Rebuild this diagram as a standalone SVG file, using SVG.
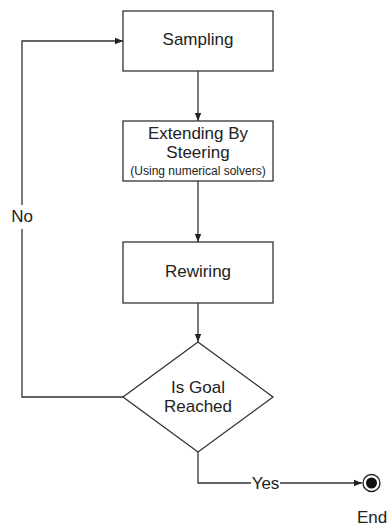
<svg xmlns="http://www.w3.org/2000/svg" width="388" height="527" viewBox="0 0 388 527">
  <style>
    .box { fill: #ffffff; stroke: #333333; stroke-width: 1.3; }
    .edge { fill: none; stroke: #333333; stroke-width: 1.3; }
    .t { font-family: "Liberation Sans", Arial, sans-serif; font-size: 17px; fill: #222222; text-anchor: middle; }
    .small { font-size: 12px; }
  </style>
  <defs>
    <marker id="arrow" viewBox="0 0 10 10" refX="10" refY="5" markerWidth="8" markerHeight="8" markerUnits="userSpaceOnUse" orient="auto">
      <path d="M0,1 L10,5 L0,9 Z" fill="#222222"/>
    </marker>
  </defs>
  <rect width="388" height="527" fill="#ffffff"/>

  <g id="connectors">
    <line class="edge" x1="198" y1="71" x2="198" y2="121" marker-end="url(#arrow)"/>
    <line class="edge" x1="198" y1="181" x2="198" y2="242" marker-end="url(#arrow)"/>
    <line class="edge" x1="198" y1="303" x2="198" y2="342" marker-end="url(#arrow)"/>
    <!-- No: loop back to Sampling -->
    <polyline class="edge" points="123,397 22,397 22,229"/>
    <polyline class="edge" points="22,205 22,41 123,41" marker-end="url(#arrow)"/>
    <text class="t" x="22" y="222">No</text>
    <!-- Yes: to End -->
    <polyline class="edge" points="198,452 198,483 251,483"/>
    <line class="edge" x1="280" y1="483" x2="362" y2="483" marker-end="url(#arrow)"/>
    <text class="t" x="265.5" y="489">Yes</text>
  </g>

  <g id="sampling">
    <rect class="box" x="123" y="11" width="150" height="60"/>
    <text class="t" x="198" y="45">Sampling</text>
  </g>

  <g id="extending">
    <rect class="box" x="123" y="121" width="150" height="60"/>
    <text class="t" x="198" y="139">Extending By</text>
    <text class="t" x="198" y="157.5">Steering</text>
    <text class="t small" x="198" y="174.5">(Using numerical solvers)</text>
  </g>

  <g id="rewiring">
    <rect class="box" x="123" y="242" width="150" height="61"/>
    <text class="t" x="198" y="276.5">Rewiring</text>
  </g>

  <g id="goal">
    <polygon class="box" points="198,342 273,397 198,452 123,397"/>
    <text class="t" x="198" y="393">Is Goal</text>
    <text class="t" x="198" y="412">Reached</text>
  </g>

  <g id="end">
    <circle cx="371.5" cy="483" r="8.5" fill="#ffffff" stroke="#222222" stroke-width="1.3"/>
    <circle cx="371.5" cy="483" r="5.5" fill="#111111"/>
    <text class="t" x="372" y="523">End</text>
  </g>
</svg>
